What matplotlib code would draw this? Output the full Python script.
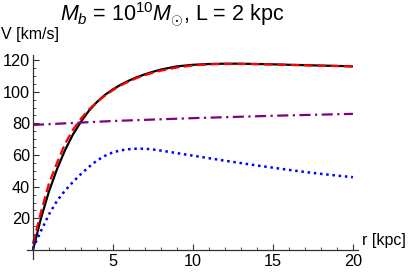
import matplotlib
matplotlib.use("Agg")
import matplotlib.pyplot as plt
from matplotlib.ticker import FixedLocator

plt.rcParams['font.family'] = ['Liberation Sans', 'DejaVu Sans']
plt.rcParams['mathtext.fontset'] = 'custom'
plt.rcParams['mathtext.rm'] = 'Liberation Sans'
plt.rcParams['mathtext.it'] = 'Liberation Sans:italic'

# data
r_total = [0, 0.25, 0.5, 1, 1.5, 2, 2.5, 3, 3.5, 4, 4.5, 5, 5.5, 6, 6.5, 7, 7.5, 8, 9, 10, 11, 12, 13, 14, 15, 16, 17, 18, 19, 20]
v_total = [0, 10, 20, 37, 51, 63, 73, 81, 88, 93.5, 98, 101.5, 104.5, 107, 109.2, 111, 112.6, 114, 116, 117, 117.5, 117.7, 117.7, 117.5, 117.3, 117, 116.8, 116.5, 116.3, 116]
r_fit = [0, 0.25, 0.5, 1, 1.5, 2, 2.5, 3, 3.5, 4, 4.5, 5, 5.5, 6, 6.5, 7, 7.5, 8, 9, 10, 11, 12, 13, 14, 15, 16, 17, 18, 19, 20]
v_fit = [4, 14, 24, 42, 55, 67, 76, 83, 88.8, 93.5, 97.5, 101, 104, 106.5, 108.7, 110.5, 112, 113.3, 115.3, 116.6, 117.3, 117.5, 117.5, 117.4, 117.2, 116.9, 116.7, 116.4, 116.2, 116]
r_baryon = [0, 0.5, 1, 1.5, 2, 2.5, 3, 3.5, 4, 4.5, 5, 5.5, 6, 6.5, 7, 7.5, 8, 9, 10, 11, 12, 13, 14, 15, 16, 17, 18, 19, 20]
v_baryon = [1, 12, 22.5, 31, 37.5, 43, 48, 52.5, 56.5, 59.5, 61.7, 63, 63.7, 64, 64, 63.5, 62.8, 61.2, 59.6, 58, 56.4, 54.9, 53.4, 52, 50.6, 49.3, 48.1, 47, 46]
r_halo = [0, 5, 10, 15, 20]
v_halo = [79, 81.5, 83.3, 84.8, 86]

fig = plt.figure(figsize=(4.15, 2.75), dpi=100)
ax = fig.add_axes([0.064, 0.0564, 0.798, 0.7425])

ax.plot(r_total, v_total, color='black', lw=1.6, solid_capstyle='butt')
ax.plot(r_fit, v_fit, color='#ff0000', lw=1.6, ls=(0, (4, 2)))
ax.plot(r_baryon, v_baryon, color='#0000ff', lw=1.8, ls=(0, (1, 1.5)))
ax.plot(r_halo, v_halo, color='#800080', lw=1.6, ls=(0, (5, 2, 1, 2)))

ax.set_xlim(-0.4, 20.3)
ax.set_ylim(-6, 123)
for s in ['top', 'right']:
    ax.spines[s].set_visible(False)
ax.spines['left'].set_position(('data', 0))
ax.spines['bottom'].set_position(('data', 0))
for s in ['left', 'bottom']:
    ax.spines[s].set_linewidth(0.9)
    ax.spines[s].set_color('#333333')

ax.xaxis.set_major_locator(FixedLocator([5, 10, 15, 20]))
ax.xaxis.set_minor_locator(FixedLocator([i for i in range(1, 21) if i % 5]))
ax.yaxis.set_major_locator(FixedLocator([20, 40, 60, 80, 100, 120]))
ax.yaxis.set_minor_locator(FixedLocator([i for i in range(5, 121, 5) if i % 20]))
ax.tick_params(which='both', direction='in', color='#333333', labelsize=11.7)
ax.tick_params(which='major', length=4, width=0.8, pad=3)
ax.tick_params(which='minor', length=2.5, width=0.6)
ax.tick_params(axis='y', pad=2)

fig.text(0.415, 0.948, r'$M_b$ = 10$^{10}$$M_{\odot}$, L = 2 kpc', ha='center', va='center', fontsize=15.5)
fig.text(0.003, 0.875, 'V [km/s]', ha='left', va='center', fontsize=11.5)
fig.text(0.872, 0.127, 'r [kpc]', ha='left', va='center', fontsize=11.5)

fig.savefig('out.png', dpi=100)
